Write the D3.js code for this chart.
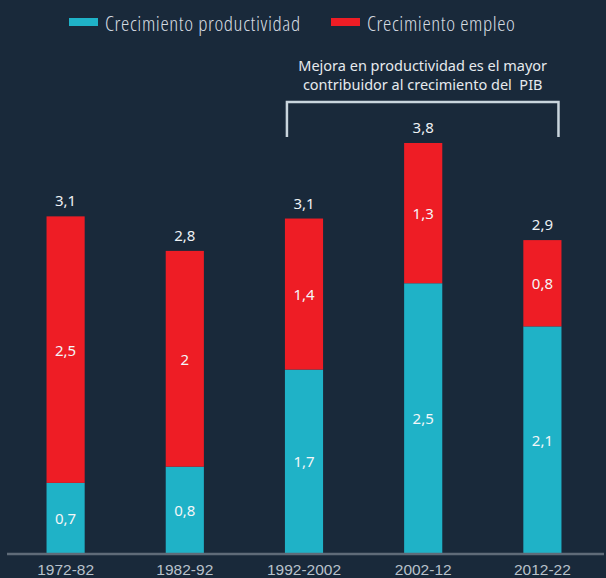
<!DOCTYPE html>
<html>
<head>
<meta charset="utf-8">
<script src="https://cdn.jsdelivr.net/npm/d3@7"></script>
<style>
  body { margin: 0; background: #19293a; }
  svg { display: block; font-family: "Noto Sans", sans-serif; }
  .legend text { font-family: "Open Sans", sans-serif; font-stretch: 75%; letter-spacing: 0.6px; }
  .note { white-space: pre; }
</style>
</head>
<body>
<div class="chart"></div>
<script>
const width = 606;
const height = 578;

// data
const periods = ["1972-82", "1982-92", "1992-2002", "2002-12", "2012-22"];
const productividad = [0.65, 0.8, 1.7, 2.5, 2.1];
const empleo = [2.47, 2.0, 1.4, 1.3, 0.8];
const seriesNames = ["Crecimiento productividad", "Crecimiento empleo"];
const colors = ["#1fb2c7", "#ee1d25"];
const note = ["Mejora en productividad es el mayor", "contribuidor al crecimiento del  PIB"];

const baseline = 553;

const locale = d3.formatLocale({ decimal: ",", thousands: ".", grouping: [3], currency: ["", "€"] });
const fmt = locale.format(".1~f");

const svg = d3
  .select(".chart")
  .append("svg")
  .attr("width", width)
  .attr("height", height);

svg.append("rect")
  .attr("width", width)
  .attr("height", height)
  .attr("fill", "#19293a");

const xScale = d3
  .scaleBand()
  .domain(periods)
  .range([6, 602])
  .paddingInner(0.68)
  .paddingOuter(0.34);

const yScale = d3.scaleLinear().domain([0, 3.8]).range([baseline, 143]);

const table = periods.map((p, i) => ({ period: p, prod: productividad[i], emp: empleo[i] }));
const stack = d3.stack().keys(["prod", "emp"])(table);

const layers = svg.selectAll(".layer")
  .data(stack)
  .join("g")
  .attr("class", "layer")
  .attr("fill", (d, i) => colors[i]);

layers.selectAll("rect")
  .data(d => d)
  .join("rect")
  .attr("x", d => xScale(d.data.period))
  .attr("width", xScale.bandwidth())
  .attr("y", d => yScale(d[1]))
  .attr("height", d => yScale(d[0]) - yScale(d[1]));

// labels inside segments
layers.selectAll("text")
  .data(d => d)
  .join("text")
  .attr("x", d => xScale(d.data.period) + xScale.bandwidth() / 2)
  .attr("y", d => (yScale(d[0]) + yScale(d[1])) / 2)
  .attr("text-anchor", "middle")
  .attr("dominant-baseline", "central")
  .attr("fill", "#f4f6f8")
  .attr("font-size", 15)
  .text(d => fmt(d[1] - d[0]));

// totals
svg.selectAll(".total")
  .data(table)
  .join("text")
  .attr("class", "total")
  .attr("x", d => xScale(d.period) + xScale.bandwidth() / 2)
  .attr("y", d => yScale(d.prod + d.emp) - 10)
  .attr("text-anchor", "middle")
  .attr("fill", "#eef1f4")
  .attr("font-size", 15)
  .text(d => fmt(d.prod + d.emp));

// x axis
const xAxis = svg.append("g")
  .attr("class", "axis x-axis")
  .attr("transform", `translate(0, ${baseline + 1})`)
  .call(d3.axisBottom(xScale).tickSize(0).tickSizeOuter(0).tickPadding(10));

xAxis.select(".domain")
  .attr("stroke", "#5f6b78")
  .attr("stroke-width", 2.5)
  .attr("d", "M7,0H604");

xAxis.selectAll(".tick text")
  .attr("fill", "#b8c1ca")
  .attr("font-size", 15.5)
  .attr("font-family", null);

// legend
const legend = svg.append("g").attr("class", "legend");
const legendX = [69, 331];
seriesNames.forEach((name, i) => {
  legend.append("rect")
    .attr("x", legendX[i])
    .attr("y", 18)
    .attr("width", 29)
    .attr("height", 8)
    .attr("fill", colors[i]);
  legend.append("text")
    .attr("x", legendX[i] + 36)
    .attr("y", 31)
    .attr("fill", "#d5dbe1")
    .attr("font-size", 21)
    .attr("font-weight", 300)
    .text(name);
});

// annotation bracket
const bx0 = xScale(periods[2]) + 2;
const bx1 = xScale(periods[4]) + xScale.bandwidth() - 3;
svg.append("path")
  .attr("d", `M${bx0},137 V102 H${bx1} V137`)
  .attr("fill", "none")
  .attr("stroke", "#c9d5dd")
  .attr("stroke-width", 2.5);

svg.append("text")
  .attr("class", "note")
  .attr("x", (bx0 + bx1) / 2)
  .attr("y", 71)
  .attr("text-anchor", "middle")
  .attr("fill", "#e6eaee")
  .attr("font-size", 14.5)
  .selectAll("tspan")
  .data(note)
  .join("tspan")
  .attr("x", (bx0 + bx1) / 2)
  .attr("dy", (d, i) => i === 0 ? 0 : 19)
  .text(d => d);
</script>
</body>
</html>
